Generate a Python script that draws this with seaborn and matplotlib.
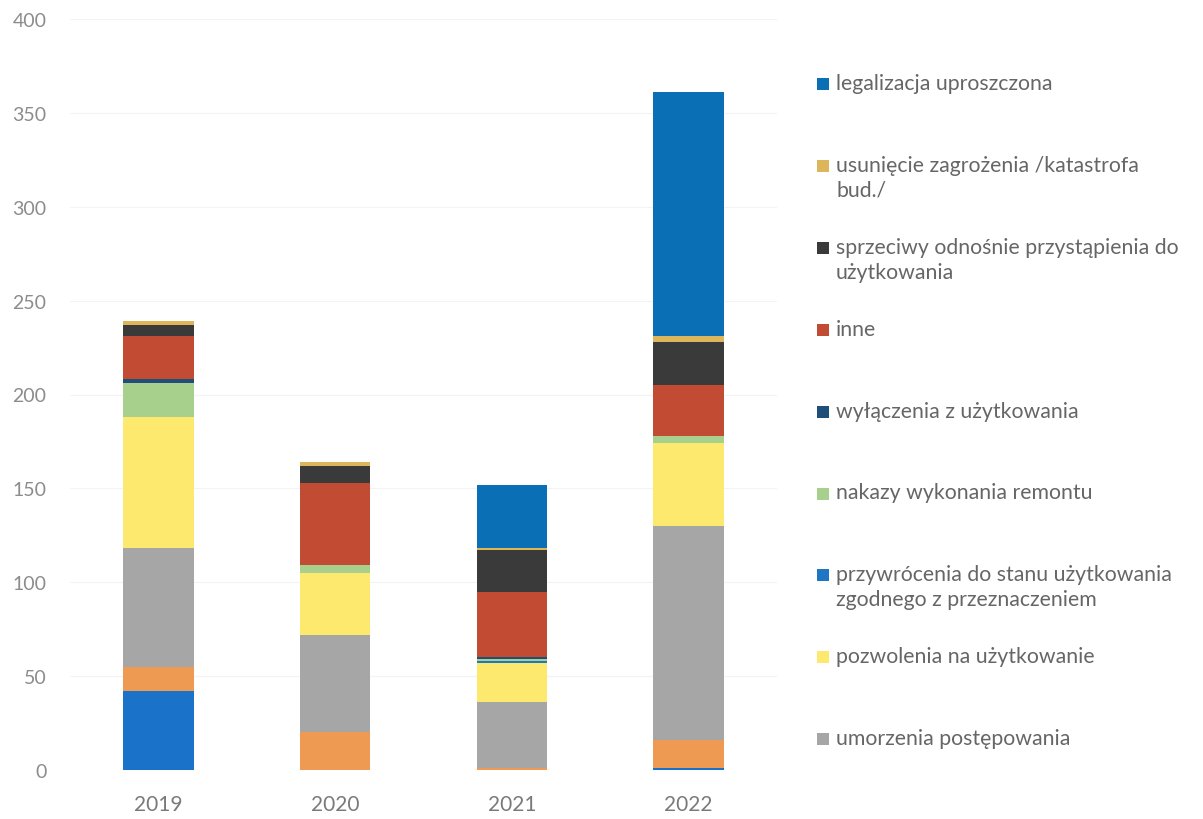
import matplotlib
matplotlib.use('Agg')
import matplotlib.pyplot as plt
from matplotlib.patches import Rectangle
import seaborn as sns
import pandas as pd

lata = ['2019', '2020', '2021', '2022']

# serie od dolu slupka do gory
seria_niebieska    = [42, 0, 0, 1]      # brak w legendzie
seria_pomaranczowa = [13, 20, 1, 15]    # brak w legendzie
umorzenia    = [63, 52, 35, 114]
pozwolenia   = [70, 33, 21, 44]
przywrocenia = [0, 0, 1, 0]
nakazy       = [18, 4, 1, 4]
wylaczenia   = [2, 0, 1, 0]
inne         = [23, 44, 35, 27]
sprzeciwy    = [6, 9, 22, 23]
usuniecie    = [2, 2, 1, 3]
legalizacja  = [0, 0, 34, 130]

etykiety = ['', '',
            'umorzenia postępowania',
            'pozwolenia na użytkowanie',
            'przywrócenia do stanu użytkowania\nzgodnego z przeznaczeniem',
            'nakazy wykonania remontu',
            'wyłączenia z użytkowania',
            'inne',
            'sprzeciwy odnośnie przystąpienia do\nużytkowania',
            'usunięcie zagrożenia /katastrofa\nbud./',
            'legalizacja uproszczona']

kolory = ['#1A73C9', '#EE9A52', '#A6A6A6', '#FDE96E', '#1F77C4', '#A8D08D',
          '#1F4E79', '#C24B33', '#3A3A3A', '#DDB65C', '#0B6FB5']

serie = [seria_niebieska, seria_pomaranczowa, umorzenia, pozwolenia, przywrocenia,
         nakazy, wylaczenia, inne, sprzeciwy, usuniecie, legalizacja]

df = pd.DataFrame({'rok': lata})
suma = pd.Series([0] * len(lata), dtype=float)
kumulacje = []
for s in serie:
    suma = suma + pd.Series(s, dtype=float)
    kumulacje.append(suma.copy())

sns.set_style('white')
plt.rcParams['font.family'] = ['Lato', 'DejaVu Sans']

fig = plt.figure(figsize=(12.03, 8.2), dpi=100)
ax = fig.add_axes([70 / 1203, 1 - 771 / 820, 707 / 1203, 751 / 820])

# stackowanie: najwyzsza suma najpierw, kolejne nakladane na wierzch
for i in range(len(serie) - 1, -1, -1):
    df['wartosc'] = kumulacje[i].values
    sns.barplot(x='rok', y='wartosc', data=df, order=lata, color=kolory[i],
                saturation=1, width=0.4, errorbar=None, ax=ax, zorder=2,
                linewidth=0, edgecolor='none')

ax.set_ylim(0, 400)
ax.set_yticks(range(0, 401, 50))
ax.set_xlim(-0.5, 3.5)
ax.set_xlabel('')
ax.set_ylabel('')
ax.yaxis.grid(True, color='#F3F3F3', linewidth=0.8, zorder=0)
ax.set_axisbelow(True)
sns.despine(left=True, bottom=True)
ax.tick_params(axis='y', length=0, pad=17, labelsize=14, labelcolor='#8C8C8C')
ax.tick_params(axis='x', length=0, pad=17, labelsize=15, labelcolor='#7A7A7A')

# legenda w stylu Excela: kwadrat przy pierwszej linii, rowne odstepy
y0 = 85
krok = 81.9
for n, i in enumerate(range(len(serie) - 1, 1, -1)):
    yc = y0 + n * krok
    fig.add_artist(Rectangle((817 / 1203, 1 - (yc + 6) / 820), 12 / 1203, 12 / 820,
                             transform=fig.transFigure, color=kolory[i], lw=0))
    fig.text(836 / 1203, 1 - (yc - 11) / 820, etykiety[i], ha='left', va='top',
             fontsize=15.3, color='#666666', linespacing=1.3)

fig.savefig('out.png', dpi=100)
